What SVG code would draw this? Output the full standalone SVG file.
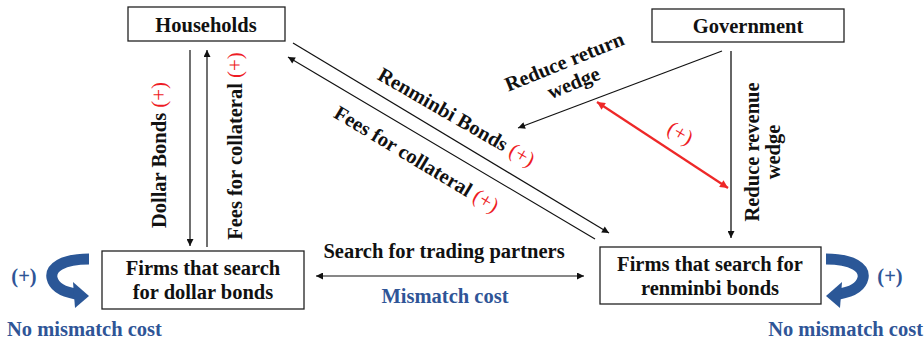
<svg xmlns="http://www.w3.org/2000/svg" width="924" height="339" viewBox="0 0 924 339">
<style>
.box{fill:#fff;stroke:#222;stroke-width:1.3}
.t{font-family:"Liberation Serif","Times New Roman",serif;font-weight:bold;font-size:20.5px;fill:#111}
.c{text-anchor:middle}
.red{font-family:"Liberation Serif","Times New Roman",serif;font-weight:normal;font-size:21px;fill:#EE1C25}
.blue{font-family:"Liberation Serif","Times New Roman",serif;font-weight:bold;font-size:20.5px;fill:#2F5597}
.ln{stroke:#111;stroke-width:1.2;fill:none}
.rl{stroke:#EE2828;stroke-width:2.2;fill:none}
.curve{fill:none;stroke:#2B5797;stroke-width:11}
</style>
<defs>
<marker id="ah" viewBox="0 0 10 10" refX="10" refY="5" markerWidth="9" markerHeight="7" markerUnits="userSpaceOnUse" orient="auto-start-reverse"><path d="M0,0 L10,5 L0,10 z" fill="#111"/></marker>
<marker id="ahr" viewBox="0 0 10 10" refX="10" refY="5" markerWidth="10" markerHeight="8" markerUnits="userSpaceOnUse" orient="auto-start-reverse"><path d="M0,0 L10,5 L0,10 z" fill="#EE2828"/></marker>
<g id="blueArrow">
<path class="curve" d="M 89 259 C 62 259, 50 268, 52 278 C 54 287, 64 292, 76 294"/>
<polygon points="73,282 89,296 75,308" fill="#2B5797"/>
</g>
</defs>

<g id="connectors">
<line class="ln" x1="190" y1="50" x2="190" y2="246" marker-end="url(#ah)"/>
<line class="ln" x1="207" y1="247" x2="207" y2="50" marker-end="url(#ah)"/>
<line class="ln" x1="293" y1="43" x2="609" y2="233" marker-end="url(#ah)"/>
<line class="ln" x1="595" y1="239" x2="288" y2="57" marker-end="url(#ah)"/>
<line class="ln" x1="722" y1="51" x2="518" y2="128" marker-end="url(#ah)"/>
<line class="ln" x1="731" y1="51" x2="731" y2="238" marker-end="url(#ah)" style="stroke:#333;stroke-width:1.5"/>
<line class="rl" x1="597" y1="102" x2="728" y2="188" marker-start="url(#ahr)" marker-end="url(#ahr)"/>
<line class="ln" x1="316" y1="276" x2="584" y2="276" marker-start="url(#ah)" marker-end="url(#ah)"/>
<use href="#blueArrow"/>
<use href="#blueArrow" transform="translate(915,0) scale(-1,1)"/>
</g>

<g id="households">
<rect class="box" x="128" y="7" width="157" height="34"/>
<text class="t c" x="206" y="32">Households</text>
</g>
<g id="government">
<rect class="box" x="652" y="9" width="192" height="33"/>
<text class="t c" x="748" y="33">Government</text>
</g>
<g id="firms-dollar">
<rect class="box" x="102" y="251" width="202" height="58"/>
<text class="t c" x="203" y="275">Firms that search</text>
<text class="t c" x="203" y="299">for dollar bonds</text>
</g>
<g id="firms-renminbi">
<rect class="box" x="600" y="247" width="221" height="57"/>
<text class="t c" x="710" y="271">Firms that search for</text>
<text class="t c" x="710" y="295">renminbi bonds</text>
</g>

<g id="labels">
<text class="t c" transform="translate(166,155) rotate(-90)">Dollar Bonds <tspan class="red">(+)</tspan></text>
<text class="t c" transform="translate(242,146) rotate(-90)">Fees for collateral <tspan class="red">(+)</tspan></text>
<text class="t c" transform="translate(453,123) rotate(30)">Renminbi Bonds <tspan class="red">(+)</tspan></text>
<text class="t c" transform="translate(413,165) rotate(31)">Fees for collateral <tspan class="red">(+)</tspan></text>
<text class="t c" transform="translate(567,68) rotate(-22)">Reduce return</text>
<text class="t c" transform="translate(576,89) rotate(-22)">wedge</text>
<text class="red c" transform="translate(677,139) rotate(30)">(+)</text>
<text class="t c" transform="translate(759,152) rotate(-90)">Reduce revenue</text>
<text class="t c" transform="translate(780,152) rotate(-90)">wedge</text>
<text class="t c" x="444" y="258">Search for trading partners</text>
<text class="blue c" x="445" y="303">Mismatch cost</text>
<text class="blue c" x="24" y="283">(+)</text>
<text class="blue c" x="890" y="283">(+)</text>
<text class="blue" x="7" y="336">No mismatch cost</text>
<text class="blue" x="923" y="336" text-anchor="end">No mismatch cost</text>
</g>
</svg>
